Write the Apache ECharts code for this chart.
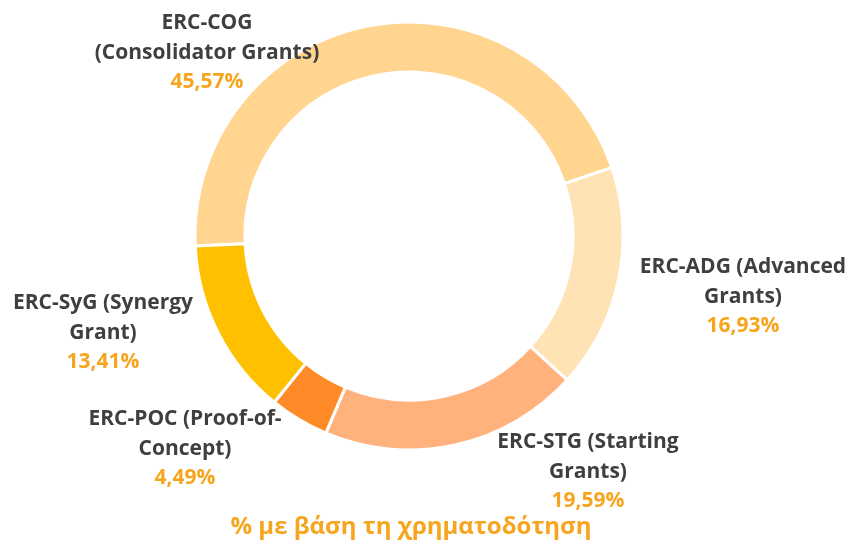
<!DOCTYPE html>
<html>
<head>
<meta charset="utf-8">
<script src="https://cdn.jsdelivr.net/npm/echarts@6/dist/echarts.min.js"></script>
<style>
  html, body { margin: 0; padding: 0; background: #fff; }
  #chart { width: 850px; height: 541px; }
</style>
</head>
<body>
<div id="chart"></div>
<script>
// κατηγορίες (με αλλαγή γραμμής όπως στην εικόνα)
const categories = [
  "ERC-COG\n(Consolidator Grants)",
  "ERC-ADG (Advanced\nGrants)",
  "ERC-STG (Starting\nGrants)",
  "ERC-POC (Proof-of-\nConcept)",
  "ERC-SyG (Synergy\nGrant)"
];
const shares = [45.57, 16.93, 19.59, 4.49, 13.41];
const sliceColors = ['#FFD590', '#FFE3B4', '#FFB27B', '#FF8A28', '#FFC000'];

// θέσεις ετικετών (κέντρο κειμένου)
const labelPos = [
  [207, 53], [743, 297], [588, 472], [185, 449], [103, 333]
];

const chart = echarts.init(document.getElementById('chart'));

chart.setOption({
  animation: false,
  graphic: [{
    type: 'text',
    x: 411,
    y: 527,
    style: {
      text: '% με βάση τη χρηματοδότηση',
      fill: '#F7A51E',
      font: 'bold 24px "Open Sans"',
      align: 'center',
      verticalAlign: 'middle'
    }
  }],
  series: [{
    type: 'pie',
    center: [409, 236],
    radius: [164, 214],
    startAngle: 182.7,
    clockwise: true,
    avoidLabelOverlap: false,
    itemStyle: {
      borderColor: '#fff',
      borderWidth: 3
    },
    label: {
      show: true,
      position: 'outside',
      formatter: p => {
        const lines = p.name.split('\n').map(l => '{n|' + l + '}');
        lines.push('{p|' + p.value.toFixed(2).replace('.', ',') + '%}');
        return lines.join('\n');
      },
      rich: {
        n: {
          fontFamily: 'Open Sans',
          fontWeight: 'bold',
          fontSize: 21,
          color: '#3F3F3F',
          lineHeight: 29.5,
          align: 'center'
        },
        p: {
          fontFamily: 'Open Sans',
          fontWeight: 'bold',
          fontSize: 21,
          color: '#F7A51E',
          lineHeight: 29.5,
          align: 'center'
        }
      }
    },
    labelLine: { show: false },
    labelLayout: params => ({
      x: labelPos[params.dataIndex][0],
      y: labelPos[params.dataIndex][1],
      align: 'center',
      verticalAlign: 'middle'
    }),
    emphasis: { disabled: true },
    data: categories.map((c, i) => ({
      name: c,
      value: shares[i],
      itemStyle: { color: sliceColors[i] }
    }))
  }]
});
</script>
</body>
</html>
